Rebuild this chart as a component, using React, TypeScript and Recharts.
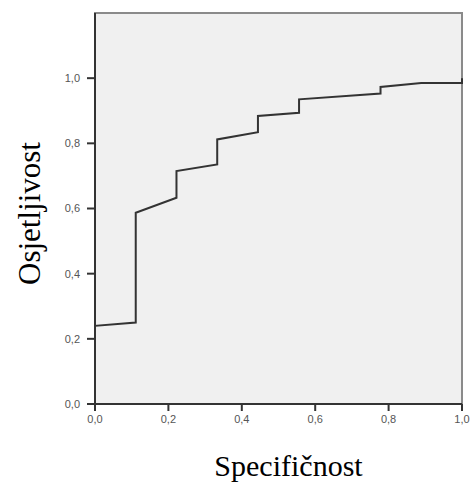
import React from "react";
import {
  LineChart,
  Line,
  XAxis,
  YAxis,
  CartesianGrid,
  ReferenceArea,
  Label,
} from "recharts";

// ROC curve points
const specificity = [0, 0, 0.111, 0.111, 0.222, 0.222, 0.333, 0.333, 0.444, 0.444, 0.556, 0.556, 0.778, 0.778, 0.889, 1.0, 1.0];
const sensitivity = [0, 0.24, 0.25, 0.587, 0.633, 0.715, 0.735, 0.812, 0.834, 0.884, 0.894, 0.935, 0.953, 0.973, 0.985, 0.985, 1.0];

const xTicks = [0, 0.2, 0.4, 0.6, 0.8, 1.0];
const yTicks = [0, 0.2, 0.4, 0.6, 0.8, 1.0];

const data = specificity.map((x, i) => ({ x, y: sensitivity[i] }));

const fmt = (v: number) => v.toFixed(1).replace(".", ",");

const tickStyle = { fontFamily: "Arial, 'Liberation Sans', sans-serif", fontSize: 11, fill: "#555" };
const titleFont = "'Times New Roman', 'Liberation Serif', serif";

export default function App() {
  return (
    <div style={{ position: "absolute", left: 0, top: 0, background: "#fff" }}>
      <LineChart width={472} height={483} data={data} margin={{ top: 13, right: 10, left: 0, bottom: 0 }}>
        <CartesianGrid horizontal={false} vertical={false} fill="#f0f0f0" />
        <ReferenceArea x1={0} x2={1} y1={0} y2={1.2} fill="#f0f0f0" fillOpacity={1} stroke="#8a8a8a" strokeWidth={2} />
        <XAxis
          type="number"
          dataKey="x"
          domain={[0, 1]}
          ticks={xTicks}
          tickFormatter={fmt}
          tick={{ ...tickStyle, dy: 2 }}
          tickSize={7}
          height={79}
          axisLine={{ stroke: "#333", strokeWidth: 2 }}
          tickLine={{ stroke: "#333", strokeWidth: 2 }}
        >
          <Label
            content={({ viewBox }: any) => (
              <text
                x={viewBox.x + viewBox.width / 2 + 10}
                y={viewBox.y + 72}
                textAnchor="middle"
                fontFamily={titleFont}
                fontSize={30}
                fill="#000"
              >
                Specifičnost
              </text>
            )}
          />
        </XAxis>
        <YAxis
          type="number"
          domain={[0, 1.2]}
          ticks={yTicks}
          tickFormatter={fmt}
          tick={{ ...tickStyle, dx: -5 }}
          tickSize={8}
          width={95}
          axisLine={{ stroke: "#333", strokeWidth: 2 }}
          tickLine={{ stroke: "#333", strokeWidth: 2 }}
        >
          <Label
            content={({ viewBox }: any) => {
              const cx = 40;
              const cy = viewBox.y + viewBox.height / 2 + 5;
              return (
                <text
                  x={cx}
                  y={cy}
                  transform={`rotate(-90, ${cx}, ${cy})`}
                  textAnchor="middle"
                  fontFamily={titleFont}
                  fontSize={31}
                  fill="#000"
                >
                  Osjetljivost
                </text>
              );
            }}
          />
        </YAxis>
        <Line
          type="linear"
          dataKey="y"
          stroke="#333"
          strokeWidth={2}
          dot={false}
          isAnimationActive={false}
        />
      </LineChart>
    </div>
  );
}
